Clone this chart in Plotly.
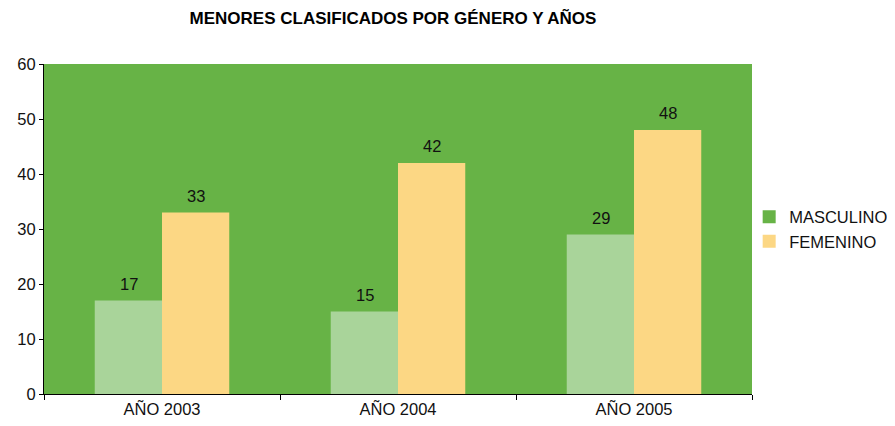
import plotly.graph_objects as go

categories = ["AÑO 2003", "AÑO 2004", "AÑO 2005"]
masculino = [17, 15, 29]
femenino = [33, 42, 48]
title_text = "MENORES CLASIFICADOS POR GÉNERO Y AÑOS"

BG_GREEN = "#67B346"
LIGHT_GREEN = "#A9D49A"
YELLOW = "#FCD784"
FONT = "Liberation Sans, Arial, sans-serif"
FS = 16.5

W, H = 887, 418  # page body has an 8px offset

fig = go.Figure()
fig.add_trace(go.Bar(x=categories, y=masculino, name="MASCULINO", marker=dict(color=LIGHT_GREEN, line=dict(width=0)),
                     showlegend=False))
fig.add_trace(go.Bar(x=categories, y=femenino, name="FEMENINO", marker=dict(color=YELLOW, line=dict(width=0)),
                     showlegend=False))
# legend entries
fig.add_trace(go.Scatter(x=[None], y=[None], mode="markers", name="MASCULINO",
                         marker=dict(color=BG_GREEN, symbol="square", size=13)))
fig.add_trace(go.Scatter(x=[None], y=[None], mode="markers", name="FEMENINO",
                         marker=dict(color=YELLOW, symbol="square", size=13)))

bar_w_px = 67
for vals, sign in ((masculino, -1), (femenino, 1)):
    for c, v in zip(categories, vals):
        fig.add_annotation(x=c, y=v, xref="x", yref="y", text=str(v), showarrow=False,
                           xshift=sign * bar_w_px / 2, yshift=6, yanchor="bottom",
                           font=dict(size=FS, color="#111"))

fig.update_layout(
    width=W, height=H,
    margin=dict(l=36, r=143, t=56, b=32, autoexpand=False),
    paper_bgcolor="white",
    plot_bgcolor=BG_GREEN,
    barmode="group",
    bargap=0.43, bargroupgap=0,
    font=dict(family=FONT, size=FS, color="#111"),
    title=dict(text="<b>" + title_text + "</b>", x=0.5 - 5 / 708, xref="paper", xanchor="center",
               y=1 - 10 / H, yanchor="middle", font=dict(size=17, color="#000")),
    legend=dict(x=0.996, xanchor="left", y=0.5, yanchor="middle", font=dict(size=FS),
                itemwidth=30, tracegroupgap=0, bgcolor="rgba(0,0,0,0)"),
    xaxis=dict(showline=True, linecolor="black", linewidth=1, ticks="outside", tickson="boundaries",
               ticklen=5, tickcolor="black", showgrid=False, tickfont=dict(size=FS), automargin=False),
    yaxis=dict(range=[0, 60], dtick=10, showline=True, linecolor="black", linewidth=1, ticks="outside",
               ticklen=4, tickcolor="black", showgrid=False, zeroline=False, tickfont=dict(size=FS),
               automargin=False),
)

fig.write_html("out.html")
